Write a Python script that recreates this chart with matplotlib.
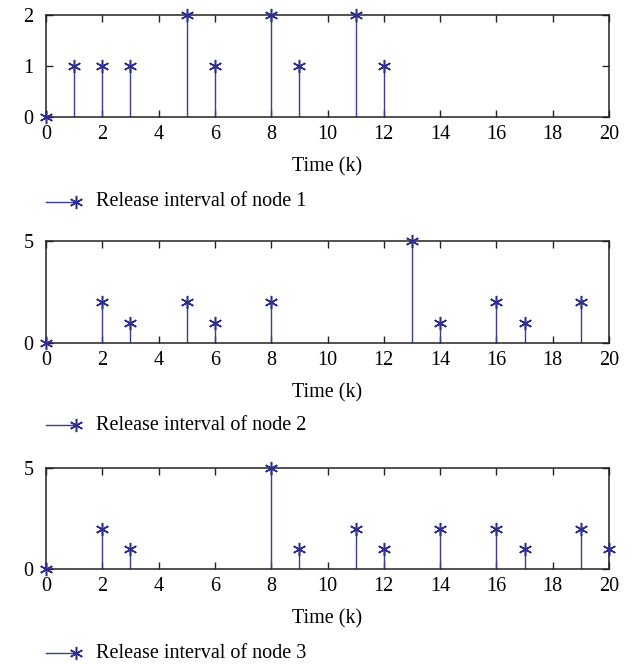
import matplotlib
matplotlib.use('Agg')
from matplotlib import pyplot as plt
from matplotlib.lines import Line2D

plt.rcParams['font.family'] = ['Liberation Serif', 'DejaVu Serif']
plt.rcParams['font.size'] = 12

# release times and intervals for each node
node1_t = [0, 1, 2, 3, 5, 6, 8, 9, 11, 12]
node1_v = [0, 1, 1, 1, 2, 1, 2, 1, 2, 1]
node2_t = [0, 2, 3, 5, 6, 8, 13, 14, 16, 17, 19]
node2_v = [0, 2, 1, 2, 1, 2, 5, 1, 2, 1, 2]
node3_t = [0, 2, 3, 8, 9, 11, 12, 14, 16, 17, 19, 20]
node3_v = [0, 2, 1, 5, 1, 2, 1, 2, 2, 1, 2, 1]

series = [(node1_t, node1_v), (node2_t, node2_v), (node3_t, node3_v)]
labels = ['Release interval of node 1', 'Release interval of node 2',
          'Release interval of node 3']
yticks = [[0, 1, 2], [0, 5], [0, 5]]
xticks = list(range(0, 21, 2))

STEM = '#3c3c9c'
MARK = '#2e2e90'
AST = (6, 2, 0)  # asterisk with a vertical arm, like MATLAB's '*'
FS = 14.5

W, H = 635, 665
fig = plt.figure(figsize=(W / 100, H / 100), dpi=100)

# axes boxes in pixels: (left, top, right, bottom)
boxes = [(46, 15, 609, 117), (46, 241, 609, 343), (46, 468, 609, 569)]
legend_y = [202, 425, 653]

for (t, v), lab, yt, (l, top, r, b), ly in zip(series, labels, yticks, boxes, legend_y):
    ax = fig.add_axes([l / W, 1 - b / H, (r - l) / W, (b - top) / H])
    ax.vlines(t, 0, v, color=STEM, lw=1.0)
    ax.plot(t, v, ls='none', marker=AST, ms=9.5, mew=1.1, color=MARK, clip_on=False, zorder=5)
    ax.set_xlim(0, 20)
    ax.set_ylim(yt[0], yt[-1])
    ax.set_xticks(xticks)
    ax.set_yticks(yt)
    ax.tick_params(direction='in', top=True, right=True, length=5, width=1,
                   color='#222222', labelsize=FS)
    ax.tick_params(axis='x', pad=6)
    ax.tick_params(axis='y', pad=9)
    for s in ax.spines.values():
        s.set_color('#222222')
        s.set_linewidth(1.1)
    ax.set_xlabel('Time (k)', fontsize=FS, labelpad=9)

    # legend drawn below the x label
    yl = 1 - ly / H
    fig.add_artist(Line2D([46 / W, 74 / W], [yl, yl], color=STEM, lw=1.0))
    fig.add_artist(Line2D([76 / W], [yl], ls='none', marker=AST, ms=9.5, mew=1.1, color=MARK))
    fig.text(96 / W, yl, lab, fontsize=FS, va='center', ha='left')

fig.savefig('out.png', dpi=100)
plt.close(fig)
